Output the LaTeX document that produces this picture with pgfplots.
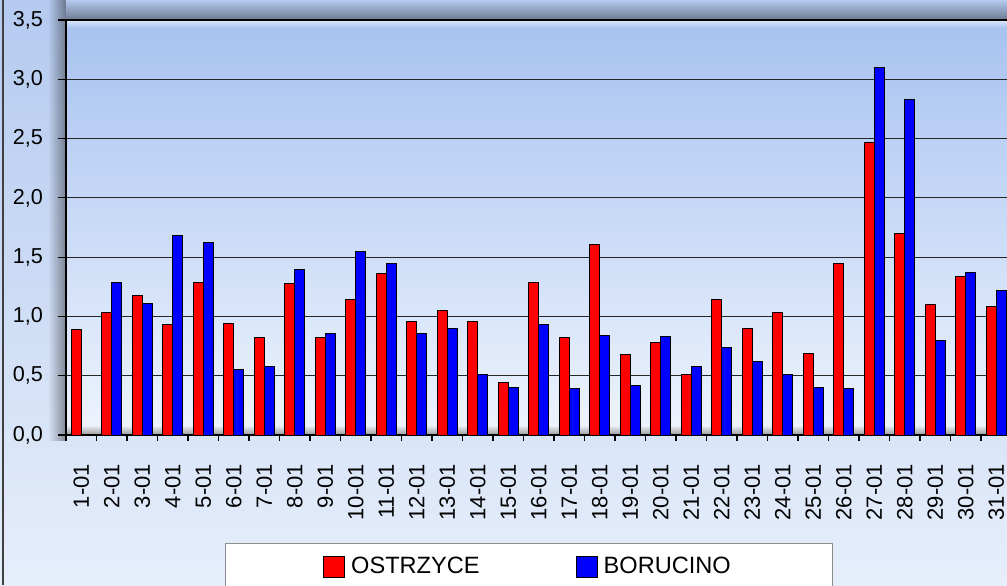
\documentclass[border=0pt]{standalone}
\usepackage{pgfplots}
\pgfplotsset{compat=1.18}
\usepackage{pgfplotstable}
\usepackage{fontspec}
\setmainfont{Liberation Sans}
\usetikzlibrary{fadings}
\definecolor{chartTop}{HTML}{B4CAEF}
\definecolor{chartBot}{HTML}{E6EEFB}
\definecolor{plotTop}{HTML}{A7C2F0}
\definecolor{plotBot}{HTML}{EEF4FD}
\definecolor{plotHi}{HTML}{DCE9FB}
\tikzfading[name=fadeR, left color=transparent!100, right color=transparent!0]
\tikzfading[name=fadeD, top color=transparent!100, bottom color=transparent!0]

\pgfplotstableread{
x o b
0 0.89 nan
1 1.03 1.29
2 1.18 1.11
3 0.93 1.68
4 1.29 1.62
5 0.94 0.55
6 0.82 0.58
7 1.28 1.40
8 0.82 0.86
9 1.14 1.55
10 1.36 1.45
11 0.96 0.86
12 1.05 0.90
13 0.96 0.51
14 0.44 0.40
15 1.29 0.93
16 0.82 0.39
17 1.61 0.84
18 0.68 0.42
19 0.78 0.83
20 0.51 0.58
21 1.14 0.74
22 0.90 0.62
23 1.03 0.51
24 0.69 0.40
25 1.45 0.39
26 2.47 3.10
27 1.70 2.83
28 1.10 0.80
29 1.34 1.37
30 1.08 1.22
}\data

\begin{document}
\begin{tikzpicture}
\useasboundingbox (0pt,0pt) rectangle (503.5pt,292.5pt);
\clip (0pt,0pt) rectangle (503.5pt,292.5pt);
% chart area background
\shade[top color=chartTop, bottom color=chartBot] (0pt,0pt) rectangle (503.5pt,292.5pt);
\draw[black!75, line width=1pt] (1.25pt,0pt) -- (1.25pt,292.5pt);
% shadows around the plot area
\fill[black, opacity=0.4, path fading=fadeR] (24pt,72pt) rectangle (33pt,292.5pt);
\fill[black, opacity=0.4, path fading=fadeD] (33pt,282.5pt) rectangle (503.5pt,292.5pt);
% plot area background
\shade[top color=plotTop, bottom color=plotBot] (33pt,75pt) rectangle (505.75pt,282.5pt);
\shade[top color=plotHi, bottom color=plotTop] (33pt,278.5pt) rectangle (505.75pt,282.5pt);
\shade[top color=plotBot, bottom color=black!40] (33pt,75pt) rectangle (505.75pt,80pt);
\begin{axis}[
  at={(33pt,75pt)}, anchor=south west,
  scale only axis, width=472.75pt, height=207.5pt,
  xmin=-0.5, xmax=30.5, ymin=0, ymax=3.5,
  ybar=0pt, bar width=5pt,
  axis line style={black, line width=0.8pt},
  ytick={0,0.5,...,3.5},
  yticklabel={\pgfmathprintnumber[fixed,fixed zerofill,precision=1,use comma,assume math mode=true]{\tick}},
  ymajorgrids, grid style={black!85, line width=0.6pt},
  tick align=outside, xtick pos=bottom, ytick pos=left,
  major tick length=4pt, minor tick length=3pt,
  tick style={black, line width=0.6pt},
  xtick={0,...,30},
  xticklabels={1-01,2-01,3-01,4-01,5-01,6-01,7-01,8-01,9-01,10-01,11-01,12-01,13-01,14-01,15-01,16-01,17-01,18-01,19-01,20-01,21-01,22-01,23-01,24-01,25-01,26-01,27-01,28-01,29-01,30-01,31-01},
  every major x tick/.append style={draw=none},
  minor xtick={-0.5,0.5,...,30.5},
  yticklabel style={font=\fontsize{10.8}{12}\selectfont, black},
  xticklabel style={font=\fontsize{11}{12}\selectfont, black, rotate=90, anchor=east},
  xticklabel shift=7pt,
  yticklabel shift=4pt,
  legend style={at={(0.4897,-0.2602)}, anchor=north, legend columns=2,
    draw=black!45, line width=0.5pt, fill=white,
    font=\fontsize{11.8}{14}\selectfont,
    inner xsep=49pt, inner ysep=5pt,
    /tikz/every odd column/.append style={column sep=1pt},
    /tikz/every even column/.append style={column sep=46pt}},
]
\addplot[fill=red, draw=black, line width=0.5pt,
  legend image code/.code={\draw[fill=red, draw=black, line width=0.5pt] (0pt,-5.25pt) rectangle (10.5pt,5.25pt);}]
  table[x=x, y=o]{\data};
\addlegendentry{OSTRZYCE}
\addplot[fill=blue, draw=black, line width=0.5pt,
  legend image code/.code={\draw[fill=blue, draw=black, line width=0.5pt] (0pt,-5.25pt) rectangle (10.5pt,5.25pt);}]
  table[x=x, y=b]{\data};
\addlegendentry{BORUCINO}
\end{axis}
\end{tikzpicture}
\end{document}
